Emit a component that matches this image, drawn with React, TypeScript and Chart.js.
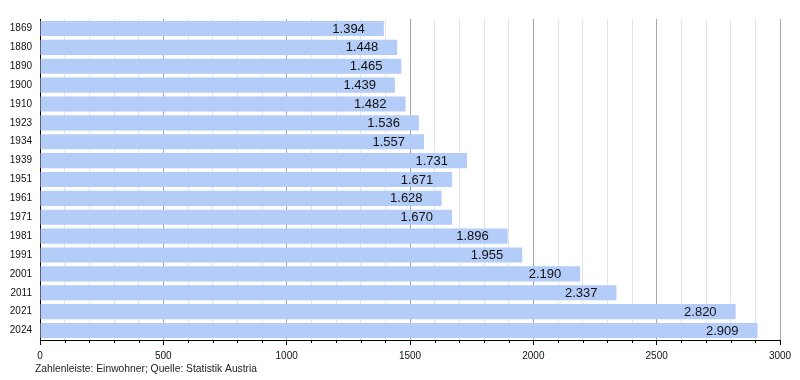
import React, { useEffect, useRef } from "react";
import { Chart, registerables } from "chart.js";

Chart.register(...registerables);

const years = ["1869", "1880", "1890", "1900", "1910", "1923", "1934", "1939", "1951", "1961", "1971", "1981", "1991", "2001", "2011", "2021", "2024"];
const population = [1394, 1448, 1465, 1439, 1482, 1536, 1557, 1731, 1671, 1628, 1670, 1896, 1955, 2190, 2337, 2820, 2909];
const footerText = "Zahlenleiste: Einwohner; Quelle: Statistik Austria";
const FONT = "'Liberation Sans', Arial, Helvetica, sans-serif";

const fmt = (v: number) => v.toLocaleString("de-DE");

const valueLabels = {
  id: "valueLabels",
  afterDatasetsDraw(chart: any) {
    const ctx = chart.ctx;
    const meta = chart.getDatasetMeta(0);
    ctx.save();
    ctx.font = `13px ${FONT}`;
    ctx.fillStyle = "#111";
    ctx.textAlign = "right";
    ctx.textBaseline = "middle";
    meta.data.forEach((bar: any, i: number) => {
      ctx.fillText(fmt(population[i]), bar.x - 19, bar.y + 0.5);
    });
    ctx.restore();
  },
};

const minorTicks = {
  id: "minorTicks",
  afterDraw(chart: any) {
    const ctx = chart.ctx;
    const x = chart.scales.x;
    const y0 = chart.chartArea.bottom;
    ctx.save();
    ctx.strokeStyle = "#000";
    ctx.lineWidth = 1;
    ctx.beginPath();
    x.ticks.forEach((t: any) => {
      if (t.value % 500 !== 0) {
        const px = Math.round(x.getPixelForValue(t.value)) + 0.5;
        ctx.moveTo(px, y0);
        ctx.lineTo(px, y0 + 3);
      }
    });
    ctx.stroke();
    ctx.restore();
  },
};

const footer = {
  id: "footer",
  afterDraw(chart: any) {
    const ctx = chart.ctx;
    ctx.save();
    ctx.font = `10.3px ${FONT}`;
    ctx.fillStyle = "#222";
    ctx.textAlign = "left";
    ctx.textBaseline = "middle";
    ctx.fillText(footerText, 35, 369);
    ctx.restore();
  },
};

export default function App() {
  const ref = useRef<HTMLCanvasElement>(null);
  useEffect(() => {
    if (!ref.current) return;
    const chart = new Chart(ref.current, {
      type: "bar",
      data: {
        labels: years,
        datasets: [
          {
            data: population,
            backgroundColor: "rgb(180,204,248)",
            borderWidth: 0,
            categoryPercentage: 1,
            barPercentage: 0.8,
          },
        ],
      },
      options: {
        indexAxis: "y",
        animation: false,
        responsive: true,
        maintainAspectRatio: false,
        layout: { padding: { top: 19, right: 20, bottom: 19, left: 0 } },
        plugins: {
          legend: { display: false },
          tooltip: { enabled: false },
        },
        scales: {
          x: {
            min: 0,
            max: 3000,
            afterFit: (s: any) => {
              s.height = 21;
            },
            ticks: {
              stepSize: 100,
              autoSkip: false,
              maxRotation: 0,
              padding: 5,
              color: "#111",
              font: { size: 10, family: FONT },
              callback: (v: any) => (Number(v) % 500 === 0 ? String(v) : ""),
            },
            grid: {
              drawTicks: true,
              tickLength: 5,
              tickColor: (c: any) => {
                const v = c.tick ? c.tick.value : 0;
                return v % 500 === 0 ? "#000" : "rgba(0,0,0,0)";
              },
              color: (c: any) => {
                const v = c.tick ? c.tick.value : 0;
                if (v === 0) return "rgba(0,0,0,0)";
                return v % 500 === 0 ? "#a6a6a6" : "#e4e4e4";
              },
            },
            border: { display: true, color: "#000", width: 1 },
          },
          y: {
            afterFit: (s: any) => {
              s.width = 40;
            },
            ticks: {
              padding: 8,
              color: "#111",
              font: { size: 10, family: FONT },
            },
            grid: { display: false, drawTicks: false },
            border: { display: true, color: "#000", width: 1 },
          },
        },
      },
      plugins: [valueLabels, minorTicks, footer],
    });
    return () => chart.destroy();
  }, []);
  return (
    <div style={{ position: "fixed", left: 0, top: 0, width: 800, height: 380, background: "#fff" }}>
      <canvas ref={ref} />
    </div>
  );
}
